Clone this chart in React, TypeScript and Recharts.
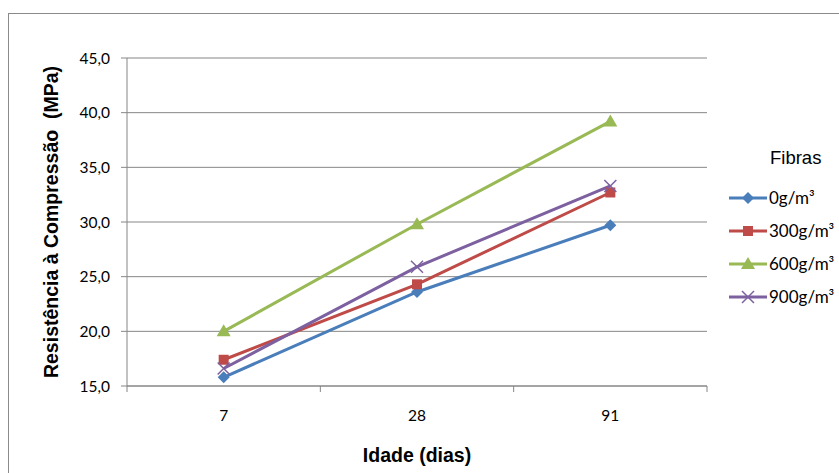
import React from "react";
import { LineChart, Line, XAxis, YAxis, CartesianGrid } from "recharts";

const idades = ["7", "28", "91"];
const fibra0 = [15.8, 23.6, 29.7];
const fibra300 = [17.4, 24.3, 32.7];
const fibra600 = [20.0, 29.8, 39.2];
const fibra900 = [16.6, 25.9, 33.3];
const yTicks = [15, 20, 25, 30, 35, 40, 45];

const series = [
  { key: "f0", name: "0g/m³", color: "#4A7EBB", marker: "diamond" },
  { key: "f300", name: "300g/m³", color: "#BE4B48", marker: "square" },
  { key: "f600", name: "600g/m³", color: "#98B954", marker: "triangle" },
  { key: "f900", name: "900g/m³", color: "#7D60A0", marker: "cross" }
];

const data = idades.map((d, i) => ({
  pos: i + 0.5,
  idade: d,
  f0: fibra0[i],
  f300: fibra300[i],
  f600: fibra600[i],
  f900: fibra900[i]
}));

const xTicks = [0, 0.5, 1, 1.5, 2, 2.5, 3];

const tickFont = "Lato, 'Open Sans', sans-serif";
const titleFont = "'Liberation Sans', Arial, sans-serif";

function Marker({ type, cx, cy, color }: any) {
  if (type === "diamond") {
    return (
      <polygon
        points={`${cx},${cy - 6} ${cx + 6},${cy} ${cx},${cy + 6} ${cx - 6},${cy}`}
        fill={color}
      />
    );
  }
  if (type === "square") {
    return <rect x={cx - 5} y={cy - 5} width={10} height={10} fill={color} />;
  }
  if (type === "triangle") {
    return (
      <polygon
        points={`${cx},${cy - 7} ${cx + 7},${cy + 5} ${cx - 7},${cy + 5}`}
        fill={color}
      />
    );
  }
  return (
    <g stroke={color} strokeWidth={1.5}>
      <line x1={cx - 6} y1={cy - 6} x2={cx + 6} y2={cy + 6} />
      <line x1={cx - 6} y1={cy + 6} x2={cx + 6} y2={cy - 6} />
    </g>
  );
}

const XTick = (props: any) => {
  const { x, y, payload } = props;
  const v = payload.value;
  if (Number.isInteger(v)) {
    return <line x1={x} y1={y - 8} x2={x} y2={y - 2} stroke="#868686" strokeWidth={1} />;
  }
  const idx = Math.floor(v);
  return (
    <text x={x} y={y + 27} textAnchor="middle" fontFamily={tickFont} fontSize={15.5} fill="#000">
      {idades[idx]}
    </text>
  );
};

const YLabel = (props: any) => {
  const { viewBox } = props;
  const cx = viewBox.x + 51;
  const cy = viewBox.y + viewBox.height / 2;
  return (
    <text
      x={cx}
      y={cy}
      transform={`rotate(-90, ${cx}, ${cy})`}
      textAnchor="middle"
      dominantBaseline="central"
      fontFamily={titleFont}
      fontWeight="bold"
      fontSize={19.5}
      fill="#000"
      style={{ whiteSpace: "pre" }}
    >
      Resistência à Compressão  (MPa)
    </text>
  );
};

const XLabel = (props: any) => {
  const { viewBox } = props;
  return (
    <text
      x={viewBox.x + viewBox.width / 2}
      y={viewBox.y + 76}
      textAnchor="middle"
      fontFamily={titleFont}
      fontWeight="bold"
      fontSize={19.5}
      fill="#000"
    >
      Idade (dias)
    </text>
  );
};

function Legenda() {
  return (
    <div style={{ position: "absolute", left: 727, top: 147, fontFamily: tickFont }}>
      <div style={{ fontFamily: titleFont, fontSize: 18.5, marginLeft: 43, height: 34 }}>Fibras</div>
      {series.map((s) => (
        <div key={s.key} style={{ display: "flex", alignItems: "center", height: 33 }}>
          <svg width={42} height={16}>
            <line x1={2} y1={8} x2={40} y2={8} stroke={s.color} strokeWidth={3} />
            <Marker type={s.marker} cx={21} cy={8} color={s.color} />
          </svg>
          <span style={{ fontSize: 17 }}>{s.name}</span>
        </div>
      ))}
    </div>
  );
}

export default function App() {
  return (
    <div style={{ position: "absolute", left: 0, top: 0, width: 839, height: 473, overflow: "hidden", background: "#fff" }}>
      <div
        style={{
          position: "absolute",
          left: 8,
          top: 13,
          width: 900,
          height: 600,
          border: "1.5px solid #8a8a8a"
        }}
      />
      <div style={{ position: "absolute", left: 0, top: 0 }}>
        <LineChart width={839} height={473} data={data} margin={{ top: 58, right: 132, bottom: 0, left: 0 }}>
          <CartesianGrid vertical={false} stroke="#868686" strokeWidth={1} />
          <XAxis
            dataKey="pos"
            type="number"
            domain={[0, 3]}
            ticks={xTicks}
            interval={0}
            height={87}
            tickLine={false}
            tick={<XTick />}
            axisLine={{ stroke: "#868686" }}
            label={<XLabel />}
          />
          <YAxis
            type="number"
            domain={[15, 45]}
            ticks={yTicks}
            interval={0}
            width={127}
            tickSize={6}
            tickMargin={11}
            tickFormatter={(v: number) => v.toFixed(1).replace(".", ",")}
            tick={{ fontFamily: tickFont, fontSize: 15.5, fill: "#000" }}
            tickLine={{ stroke: "#868686" }}
            axisLine={{ stroke: "#868686" }}
            label={<YLabel />}
          />
          {series.map((s) => (
            <Line
              key={s.key}
              dataKey={s.key}
              name={s.name}
              type="linear"
              stroke={s.color}
              strokeWidth={3}
              isAnimationActive={false}
              dot={(p: any) => <Marker key={`${s.key}-${p.index}`} type={s.marker} cx={p.cx} cy={p.cy} color={s.color} />}
              activeDot={false}
            />
          ))}
        </LineChart>
      </div>
      <Legenda />
    </div>
  );
}
